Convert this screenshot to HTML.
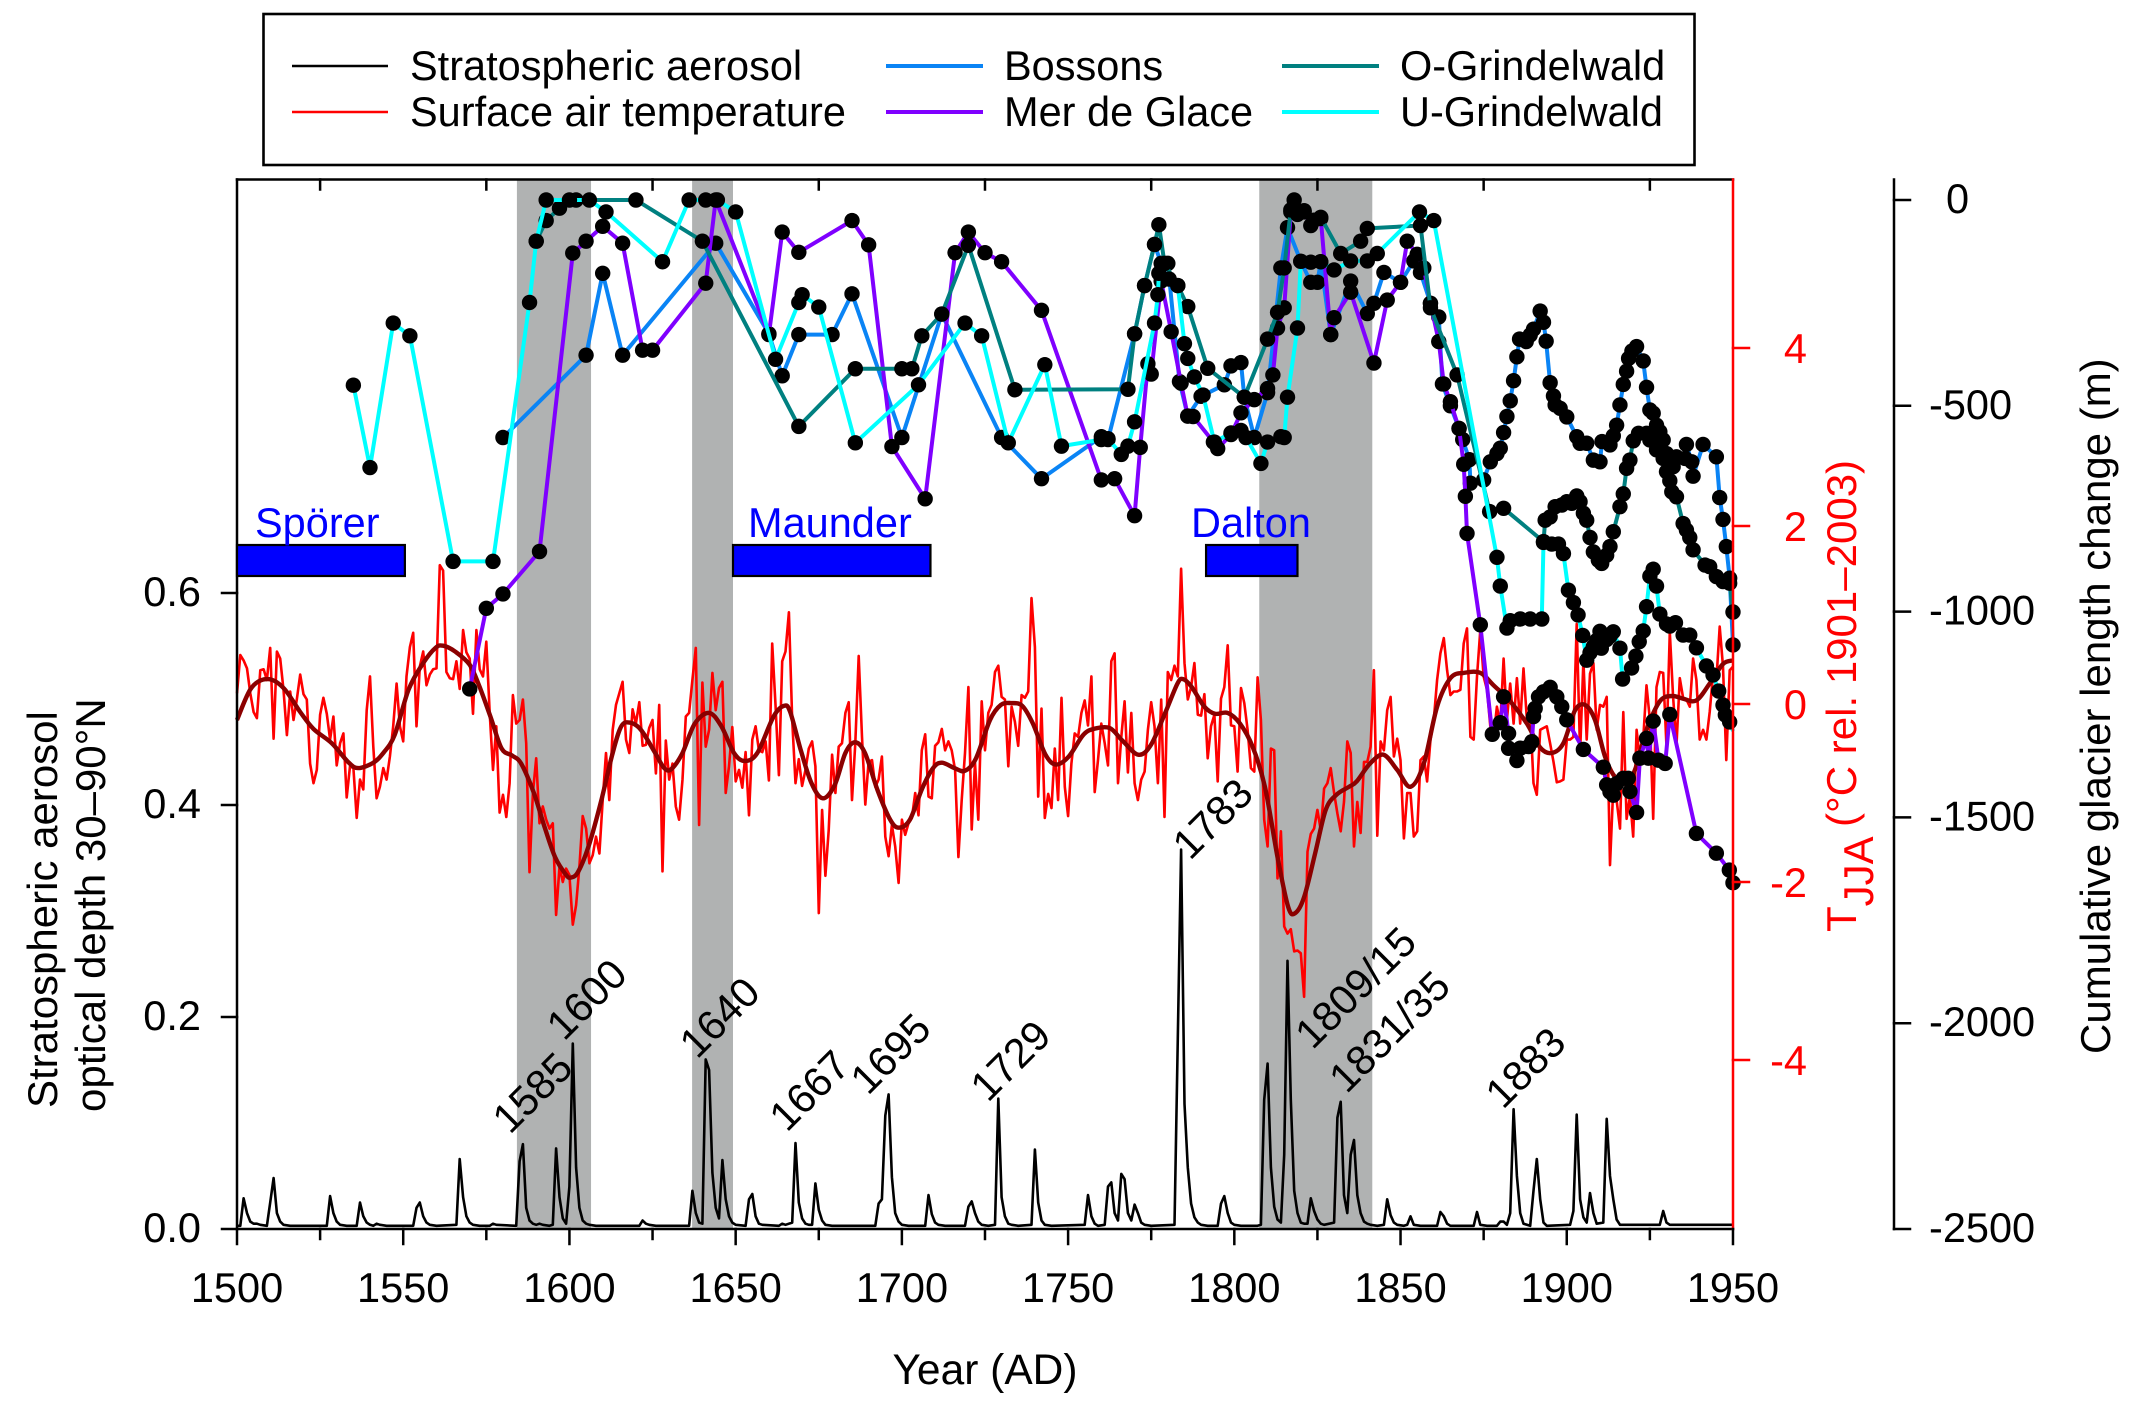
<!DOCTYPE html>
<html lang="en">
<head>
<meta charset="utf-8">
<title>Stratospheric aerosol, temperature and glacier length 1500-1950</title>
<style>
html,body{margin:0;padding:0;background:#fff;}
svg{display:block;}
text{font-family:"Liberation Sans",Arial,sans-serif;font-size:41.5px;fill:#000;}
.title{font-size:42px;}
</style>
</head>
<body>
<svg id="chart" xmlns="http://www.w3.org/2000/svg" width="2138" height="1412" viewBox="0 0 2138 1412">
  <rect x="0" y="0" width="2138" height="1412" fill="#fff"/>
  <g id="bands"></g>
  <g id="series-lower"></g>
  <g id="series-glacier"></g>
  <g id="axes"></g>

  <g id="minima"></g>

  <g>
    <text class="title" transform="translate(57 1108) rotate(-90)">Stratospheric aerosol</text>
    <text class="title" transform="translate(105 1112) rotate(-90)">optical depth 30–90°N</text>
  </g>
  <text x="985" y="1384" text-anchor="middle" style="font-size:42.5px">Year (AD)</text>
  <text class="title" transform="translate(1856 932) rotate(-90)" style="fill:#f00"><tspan>T</tspan><tspan dy="17">JJA</tspan><tspan dy="-17"> (°C rel. 1901–2003)</tspan></text>
  <text class="title" transform="translate(2110 1054) rotate(-90)">Cumulative glacier length change (m)</text>

  <g>
    <rect x="263.5" y="14" width="1431" height="151" fill="#fff" stroke="#000" stroke-width="2.6"/>
    <line x1="292" x2="388" y1="66" y2="66" stroke="#000" stroke-width="2.6"/>
    <text x="410" y="80">Stratospheric aerosol</text>
    <line x1="292" x2="388" y1="112" y2="112" stroke="#f00" stroke-width="2.6"/>
    <text x="410" y="126">Surface air temperature</text>
    <line x1="886" x2="983" y1="66" y2="66" stroke="#0a84f5" stroke-width="4"/>
    <text x="1004" y="80">Bossons</text>
    <line x1="886" x2="983" y1="112" y2="112" stroke="#7f00ff" stroke-width="4"/>
    <text x="1004" y="126">Mer de Glace</text>
    <line x1="1282" x2="1379" y1="66" y2="66" stroke="#008080" stroke-width="4"/>
    <text x="1400" y="80">O-Grindelwald</text>
    <line x1="1282" x2="1379" y1="112" y2="112" stroke="#00ffff" stroke-width="4"/>
    <text x="1400" y="126">U-Grindelwald</text>
  </g>
</svg>
<script>
const tempFirstYear = 1500;
const temperatureValues = [
.12,.55,.49,.40,.12,-.09,-.16,.38,.39,.27,
.63,-.39,.59,.51,.16,-.35,.14,-.18,.05,.33,
.11,.05,-.67,-.89,-.74,-.12,.07,-.11,-.40,-.14,
-.69,-.44,-.33,-1.05,-.70,-.72,-1.28,-.85,-.96,-.07,
.31,-.48,-1.06,-.93,-.72,-.85,-.59,-.25,.23,-.25,
-.42,.31,.64,.80,-.25,.42,.59,.21,.33,.39,
.40,1.56,1.5,.36,.29,.28,.48,.17,.83,.58,
.51,-.11,.83,.39,.31,.70,-.10,-.74,-.25,-1.22,
-1.02,-1.27,-.89,.10,-.22,-.18,.05,-.44,-1.89,-1.0,
-.61,-1.34,-1.15,-1.30,-1.40,-1.34,-2.37,-1.83,-2.0,-1.85,
-1.92,-2.48,-2.26,-1.83,-1.26,-1.40,-1.79,-1.70,-1.49,-1.68,
-1.08,-.55,-1.08,-.29,-.01,.12,.25,-.40,-.55,-.06,
-.22,.02,-.47,-.46,-.27,-.18,-.78,-.01,-1.88,-.41,
-.85,-.67,-1.15,-1.30,-.85,-.14,-.10,.27,.63,-1.36,
.24,-.48,-.29,.35,-.07,.18,.25,-1.0,-.70,-.26,
-.87,-.74,-.94,-.54,-1.25,-.40,-.25,-.52,-.54,-.42,
-.86,.68,-.03,-.80,.48,.59,1.03,-.18,-.89,-.62,
-.92,-.74,-.50,-.42,-.70,-2.35,-1.19,-1.93,-1.42,-.57,
-1.0,-.48,-.44,-.10,.02,-1.08,-.44,.54,-.37,-1.13,
-.65,-.63,-.93,-.85,-.59,-1.49,-1.71,-1.36,-1.6,-2.01,
-1.30,-1.47,-1.34,-1.28,-1.0,-1.25,-.52,-.34,-1.04,-1.06,
-.47,-.43,-.28,-.52,-.42,-.52,-.74,-1.72,-1.08,-.55,
.19,-1.41,-.66,-1.30,.03,-.52,-.10,-.01,.36,.43,
.08,.05,-.70,-.03,-.20,-.47,.10,.07,.14,1.19,
.64,-1.04,-.05,-1.28,-1.01,-1.17,-.50,-1.08,.07,-.93,
-1.26,-.67,-.33,-.37,-.10,.04,-.24,.31,-.99,-.63,
-.22,-.44,-.69,.48,.57,-.89,-.37,.03,-.77,-.10,
-.89,-1.08,-.85,-.76,-.29,.02,-.25,-.89,.05,-1.27,
.36,.27,.43,.31,1.52,.46,.05,.19,.46,-.12,
-.13,.11,-.61,-.25,-.12,-.87,.06,.19,.66,-.24,
-.25,-.76,.18,.01,-.29,-.72,-.76,.30,-.18,-1.30,
-1.60,-.50,-.52,-1.96,-1.43,-2.50,-2.58,-2.53,-2.78,-2.77,
-2.80,-3.29,-1.66,-1.46,-1.40,-1.19,-1.42,-.95,-.89,-.72,
-1.0,-1.23,-1.43,-1.10,-.42,-.55,-1.60,-1.10,-1.45,-.65,
-.65,-.48,.38,-1.48,-.42,-.52,-.07,.08,-.59,-.39,
-.63,-1.51,-1.0,-1.0,-1.49,-1.43,-.63,-.59,-.87,-.40,
-.18,.27,.57,.74,.38,.10,.14,.14,.16,.68,
.85,-.37,-.40,.31,.83,.31,.16,-.25,-.37,-.03,
-.22,.51,-.18,.23,-.22,.29,-.22,.40,-.18,-.10,
-.89,-1.02,-.29,-.27,-.25,-.44,-.65,-.88,-.87,-.85,
-.40,-.40,-.37,.9,-.55,.49,-.40,.34,.46,-.29,
-.01,-.03,.08,-1.81,-.93,-1.08,-1.40,-.09,-1.29,-1.04,
-1.49,-.29,-.63,-.40,.21,-.18,-1.29,.19,.36,.35,
-.48,.81,.08,-.46,.29,.07,.05,-.03,.51,.27,
-.40,-.29,-.40,-.09,.33,.27,.87,.42,-.63,.38,
.42];

const smoothYears = [1500,1504.3,1509.2,1514,1519,1523,1528.5,1533.4,1536.4,1541,1544,1547.4,1551.6,1556,1559.7,1562,1565.6,1570,1573,1576.4,1579.6,1582.8,1585.5,1589.3,1592.5,1595.7,1599,1600.5,1602.7,1606,1609.6,1613,1615.6,1618.3,1621.5,1625.8,1628.5,1630.7,1634,1637.7,1642,1645.7,1649.5,1652.7,1656.5,1661.4,1664.6,1666.4,1669.6,1672.8,1676.2,1679.8,1683,1685.9,1688.9,1692.7,1696.5,1699.1,1702.4,1706.1,1709.4,1712,1715.8,1719,1722.3,1726.5,1729.8,1733,1736.2,1739.4,1743.2,1746.4,1750.2,1754.5,1757.7,1762.5,1766.3,1771.1,1774.9,1779.2,1782.9,1784.6,1787.2,1791,1794.2,1798,1801.7,1805.5,1809.2,1813,1816.2,1818.3,1821,1824.3,1827.5,1830.7,1834.5,1836.8,1840.8,1844.9,1849,1853,1857,1861,1865,1869,1874,1878,1883,1888,1892,1895.5,1899,1902.5,1905.5,1908.5,1911.5,1914.5,1918,1920.7,1924,1928,1931.6,1935,1939,1943,1947,1950];
const smoothValues = [-.18,.18,.28,.18,-.09,-.28,-.44,-.65,-.72,-.66,-.55,-.35,.16,.46,.63,.655,.59,.44,.19,-.16,-.50,-.58,-.67,-1.0,-1.38,-1.72,-1.92,-1.95,-1.88,-1.57,-1.08,-.55,-.25,-.21,-.29,-.55,-.72,-.73,-.55,-.22,-.10,-.25,-.55,-.64,-.55,-.14,-.02,-.09,-.52,-.89,-1.06,-.91,-.55,-.43,-.55,-.97,-1.30,-1.39,-1.30,-.95,-.72,-.66,-.72,-.75,-.61,-.18,-.01,.01,-.02,-.22,-.57,-.68,-.59,-.35,-.28,-.27,-.41,-.57,-.46,-.10,.23,.28,.19,-.03,-.11,-.10,-.22,-.48,-.93,-1.72,-2.28,-2.35,-2.17,-1.68,-1.19,-1.02,-.93,-.87,-.67,-.57,-.74,-.93,-.67,-.03,.29,.35,.35,.21,.03,-.22,-.49,-.55,-.44,-.07,-.01,-.18,-.59,-.82,-.89,-.72,-.29,.03,.09,.06,.04,.23,.45,.49];

const aodYears = [
1500,1501,1502,1503,1504,1505,1506,1507,1509,1510,
1511,1512,1513,1514,1516,1527,1528,1529,1530,1531,
1533,1536,1537,1538,1539,1540,1541,1542,1543,1545,
1553,1554,1555,1556,1557,1558,1560,1566,1567,1568,
1569,1570,1571,1573,1576,1577,1578,1584,1585,1586,
1587,1588,1589,1590,1591,1592,1594,1595,1596,1597,
1598,1599,1600,1601,1602,1603,1604,1605,1606,1608,
1621,1622,1623,1624,1626,1636,1637,1638,1639,1640,
1641,1642,1643,1644,1645,1646,1647,1648,1649,1650,
1653,1654,1655,1656,1657,1658,1663,1664,1665,1667,
1668,1669,1670,1671,1672,1673,1674,1675,1676,1677,
1679,1692,1693,1694,1695,1696,1697,1698,1699,1700,
1702,1707,1708,1709,1710,1711,1713,1719,1720,1721,
1722,1723,1724,1726,1728,1729,1730,1731,1732,1733,
1735,1739,1740,1741,1742,1743,1745,1755,1756,1757,
1758,1759,1761,1762,1763,1764,1765,1766,1767,1768,
1769,1770,1771,1772,1773,1775,1782,1783,1784,1785,
1786,1787,1788,1789,1790,1792,1795,1796,1797,1798,
1799,1800,1802,1807,1808,1809,1810,1811,1812,1813,
1814,1815,1816,1817,1818,1819,1820,1821,1822,1823,
1824,1825,1826,1827,1830,1831,1832,1833,1834,1835,
1836,1837,1838,1839,1840,1841,1843,1845,1846,1847,
1848,1849,1851,1852,1853,1854,1856,1861,1862,1863,
1864,1865,1872,1873,1874,1876,1879,1880,1881,1882,
1883,1884,1885,1886,1887,1889,1890,1891,1892,1893,
1894,1901,1902,1903,1904,1905,1906,1907,1908,1909,
1911,1912,1913,1914,1915,1916,1928,1929,1930,1931,
1950];
const aodValues = [
.003,.003,.029,.015,.007,.005,.005,.004,.003,.025,
.048,.015,.007,.004,.003,.003,.031,.015,.007,.004,
.003,.003,.025,.012,.006,.004,.003,.005,.004,.003,
.003,.02,.025,.012,.006,.004,.003,.004,.066,.03,
.012,.006,.004,.003,.003,.005,.004,.003,.064,.08,
.02,.008,.005,.004,.005,.004,.003,.004,.076,.03,
.01,.005,.04,.175,.058,.02,.008,.005,.004,.003,
.003,.008,.005,.004,.003,.003,.036,.015,.006,.005,
.16,.15,.053,.02,.01,.065,.028,.012,.006,.004,
.003,.028,.033,.012,.005,.004,.003,.005,.004,.006,
.081,.025,.01,.005,.004,.004,.043,.018,.008,.004,
.003,.003,.024,.028,.107,.127,.049,.015,.007,.004,
.003,.003,.032,.014,.006,.004,.003,.003,.021,.026,
.015,.007,.004,.003,.004,.123,.03,.012,.005,.004,
.003,.004,.075,.025,.008,.004,.003,.004,.032,.012,
.005,.003,.004,.04,.044,.015,.008,.052,.047,.015,
.008,.023,.015,.006,.004,.003,.004,.18,.358,.118,
.058,.024,.011,.006,.004,.003,.003,.024,.031,.015,
.006,.004,.003,.003,.004,.122,.156,.058,.021,.009,
.006,.07,.253,.122,.036,.015,.006,.005,.005,.029,
.017,.009,.005,.004,.006,.105,.12,.032,.015,.07,
.084,.032,.015,.007,.005,.004,.003,.004,.028,.013,
.006,.004,.003,.004,.012,.004,.003,.003,.016,.012,
.005,.003,.003,.016,.004,.003,.003,.007,.007,.004,
.015,.113,.05,.015,.005,.003,.036,.066,.028,.006,
.003,.004,.017,.108,.028,.011,.006,.034,.015,.005,
.006,.104,.05,.028,.009,.004,.004,.017,.006,.004,
.004];

const bossonsYears = [1580,1605,1610,1616,1644,1660,1664,1669,1679,1685,1700,1712,1730,1742,1760,1762,1770,1773,1776,1778,1780,1783.5,1786,1790,1797,1799,1802,1803,1806,1810,1814,1816,1820,1823,1825,1826,1829,1835,1840,1842,1845,1850,1854,1856,1859,1861.5,1862.6,1865,1867.6,1868.7,1870.7,1871,1875,1877,1879,1880,1881,1882,1883,1884,1885,1885.8,1887.8,1889,1890,1892,1893,1893.8,1895,1896,1896.5,1898,1900,1903,1904,1906,1908,1910,1910.6,1913,1914,1915,1916,1917,1918,1918.6,1919.6,1921,1923,1924,1925,1926,1927,1928,1929,1930,1932,1933,1935.6,1936,1937.6,1938,1941,1945,1946,1947,1948,1949,1950];
const bossonsLengths = [-577,-377,-178,-377,-105,-325,-427,-327,-327,-228,-577,-277,-577,-677,-575,-582,-325,-208,-108,-154,-154,-441,-525,-477,-449,-403,-395,-479,-577,-468,-165,-67,-149,-200,-200,-150,-327,-197,-276,-251,-176,-200,-148,-176,-251,-284,-447,-500,-555,-582,-631,-688,-680,-636,-616,-603,-565,-526,-488,-439,-381,-338,-344,-328,-314,-270,-297,-343,-444,-476,-498,-506,-527,-575,-591,-591,-632,-636,-587,-595,-573,-547,-498,-448,-416,-385,-367,-356,-391,-455,-510,-518,-547,-563,-583,-616,-648,-624,-628,-594,-636,-671,-594,-624,-723,-776,-842,-919,-1081];

const merDeGlaceYears = [1570,1575,1580,1591,1601,1605,1610,1616,1622,1625,1641,1644,1660,1664,1669,1685,1690,1697,1707,1716,1720,1725,1730,1742,1760,1764,1770,1771.7,1774,1775,1778,1781,1784,1786,1787.6,1793.7,1795,1799,1802,1806,1810,1811.6,1813,1815,1817,1818,1821,1823,1826,1829,1830,1835,1842,1846,1850,1852,1855,1857,1859,1861.5,1863,1865,1867.6,1869,1869.5,1870,1874,1877.6,1880,1881,1882.5,1882.5,1885,1886,1888.5,1889.5,1890,1890.5,1891.5,1893,1895,1897,1898.5,1900,1905,1911,1912,1913,1914,1915,1917,1918.5,1919,1921,1922,1924,1924.6,1926,1927.6,1929.6,1931,1939,1945,1948.9,1950];
const merDeGlaceLengths = [-1188,-992,-957,-854,-129,-100,-64,-105,-365,-365,-202,0,-327,-78,-127,-50,-109,-599,-726,-128,-78,-128,-150,-268,-680,-677,-767,-601,-398,-423,-197,-320,-445,-525,-526,-588,-604,-570,-517,-485,-458,-425,-311,-262,-29,0,-29,-62,-45,-327,-286,-224,-396,-243,-200,-100,-132,-165,-251,-344,-447,-490,-555,-642,-720,-810,-1032,-1298,-1270,-1207,-1296,-1332,-1362,-1332,-1328,-1316,-1255,-1235,-1207,-1195,-1184,-1207,-1231,-1263,-1335,-1378,-1421,-1438,-1446,-1418,-1405,-1405,-1437,-1488,-1356,-1308,-1356,-1266,-1361,-1369,-1250,-1539,-1587,-1628,-1659];

const oGrindelwaldYears = [1590,1593,1597,1602,1620,1640,1669,1686,1700,1703,1706,1712,1720,1734,1768,1770,1773,1776,1777.3,1779,1783,1786,1792,1803,1810,1813,1815,1817,1819,1821,1824,1826,1832,1838,1840,1856,1859,1867,1876.8,1881,1893,1893.5,1895,1896.5,1898.5,1900,1901.5,1903,1904,1905,1906,1907,1908,1909.5,1910.5,1912,1913,1914,1916,1917,1918,1919,1920,1921.6,1924,1925,1927,1929,1930,1931,1931.6,1933,1935,1936,1937,1938,1941.6,1943,1945,1947,1949,1950];
const oGrindelwaldLengths = [-100,-50,-20,0,0,-100,-550,-410,-410,-410,-330,-277,-110,-461,-460,-325,-208,-108,-60,-154,-208,-259,-409,-479,-338,-273,-165,-24,-35,-26,-49,-42,-130,-100,-69,-62,-262,-425,-757,-749,-830,-778,-770,-745,-741,-733,-737,-719,-733,-761,-778,-820,-855,-875,-883,-863,-842,-806,-745,-714,-652,-632,-585,-567,-567,-583,-607,-628,-660,-682,-709,-721,-786,-802,-820,-850,-887,-891,-915,-927,-931,-1001];

const uGrindelwaldYears = [1535,1540,1547,1552,1565,1577,1588,1590,1593,1600,1606,1611,1628,1636,1641,1644.5,1650,1662,1669,1670,1675,1686,1705,1719,1724,1732,1743,1748,1760,1762,1766,1768,1770,1776,1777,1777.3,1780.4,1783,1785,1786,1788,1790.6,1794,1799,1802,1803.5,1808,1810,1814,1815,1816,1819,1820,1823,1826,1830,1835,1840,1843,1855.7,1860,1879,1880,1882,1883,1886,1889,1892.5,1893,1895.5,1897.5,1899,1900.5,1902,1903.4,1904.8,1906,1907,1908,1909,1910,1910.4,1912,1913,1914,1916,1916.8,1919.5,1920.8,1921.8,1923,1924,1925,1926,1927,1928,1930,1931,1932.7,1935,1937,1939,1942,1944,1945.7,1947,1947.7,1949,1950];
const uGrindelwaldLengths = [-450,-650,-299,-330,-878,-878,-249,-100,0,0,0,-29,-150,0,0,0,-29,-387,-249,-230,-260,-590,-449,-299,-330,-590,-400,-598,-582,-580,-618,-598,-539,-299,-230,-178,-192,-208,-349,-385,-430,-474,-588,-566,-560,-577,-640,-588,-575,-577,-479,-311,-149,-151,-150,-170,-148,-148,-130,-29,-50,-868,-938,-1040,-1022,-1018,-1018,-1018,-832,-836,-836,-859,-948,-978,-1008,-1058,-1118,-1100,-1085,-1070,-1048,-1089,-1068,-1060,-1049,-1089,-1164,-1137,-1108,-1073,-1047,-988,-914,-897,-938,-1006,-1030,-1035,-1027,-1057,-1057,-1088,-1132,-1154,-1193,-1227,-1251,-1268,-1290];

const volcanicBandStarts = [1584.2,1636.9,1807.5];
const volcanicBandEnds = [1606.5,1649.2,1841.5];
const minimumNames = ['Spörer','Maunder','Dalton'];
const minimumStarts = [1500,1649.2,1791.5];
const minimumEnds = [1550.5,1708.6,1819];
const eruptionLabels = ['1585','1600','1640','1667','1695','1729','1783','1809/15','1831/35','1883'];

const xMajorTicks = [1500,1550,1600,1650,1700,1750,1800,1850,1900,1950];
const xMinorTicks = [1525,1575,1625,1675,1725,1775,1825,1875,1925];
const aodTicks = [0,0.2,0.4,0.6];
const aodTickLabels = ['0.0','0.2','0.4','0.6'];
const tempTicks = [4,2,0,-2,-4];
const glacierTicks = [0,-500,-1000,-1500,-2000,-2500];

const X0 = 237, X_PER_YEAR = 3.3244, PLOT_TOP = 179.5, PLOT_BOTTOM = 1229, PLOT_RIGHT = 1733;
const xScale = y => X0 + (y - 1500) * X_PER_YEAR;
const aodScale = v => 1229 - v * 1060;
const tempScale = v => 704 - v * 89;
const lengthScale = v => 200 - v * 0.4116;

const NS = 'http://www.w3.org/2000/svg';
const make = (tag, parent) => { const e = document.createElementNS(NS, tag); parent.appendChild(e); return e; };
const bandsG = document.getElementById('bands');
const lowerG = document.getElementById('series-lower');
const glacierG = document.getElementById('series-glacier');
const axesG = document.getElementById('axes');
const minimaG = document.getElementById('minima');

volcanicBandStarts.forEach((s, i) => {
  const r = make('rect', bandsG);
  
  
  r.setAttribute('x', xScale(s));
  r.setAttribute('y', PLOT_TOP);
  r.setAttribute('width', xScale(volcanicBandEnds[i]) - xScale(s));
  r.setAttribute('height', PLOT_BOTTOM - PLOT_TOP);
  r.setAttribute('fill', '#b0b2b2');
});

function polyPath(xs, ys) {
  return xs.map((x, i) => (i ? 'L' : 'M') + x.toFixed(1) + ' ' + ys[i].toFixed(1)).join('');
}
function smoothPath(xs, ys) {
  let d = 'M' + xs[0].toFixed(1) + ' ' + ys[0].toFixed(1);
  for (let i = 0; i < xs.length - 1; i++) {
    const a = Math.max(i - 1, 0), b = Math.min(i + 2, xs.length - 1);
    const c1x = xs[i] + (xs[i + 1] - xs[a]) / 6, c1y = ys[i] + (ys[i + 1] - ys[a]) / 6;
    const c2x = xs[i + 1] - (xs[b] - xs[i]) / 6, c2y = ys[i + 1] - (ys[b] - ys[i]) / 6;
    d += 'C' + c1x.toFixed(1) + ' ' + c1y.toFixed(1) + ' ' + c2x.toFixed(1) + ' ' + c2y.toFixed(1) + ' ' + xs[i + 1].toFixed(1) + ' ' + ys[i + 1].toFixed(1);
  }
  return d;
}

const aodLine = make('path', lowerG);


aodLine.setAttribute('d', polyPath(aodYears.map(xScale), aodValues.map(aodScale)));
aodLine.setAttribute('fill', 'none');
aodLine.setAttribute('stroke', '#000');
aodLine.setAttribute('stroke-width', '2.6');
aodLine.setAttribute('stroke-linejoin', 'round');

const tempLine = make('path', lowerG);


tempLine.setAttribute('d', polyPath(temperatureValues.map((v, i) => xScale(tempFirstYear + i)), temperatureValues.map(tempScale)));
tempLine.setAttribute('fill', 'none');
tempLine.setAttribute('stroke', '#f00');
tempLine.setAttribute('stroke-width', '2.6');
tempLine.setAttribute('stroke-linejoin', 'round');

const smoothLine = make('path', lowerG);


smoothLine.setAttribute('d', smoothPath(smoothYears.map(xScale), smoothValues.map(tempScale)));
smoothLine.setAttribute('fill', 'none');
smoothLine.setAttribute('stroke', '#8b0000');
smoothLine.setAttribute('stroke-width', '4.4');

function drawGlacier(name, years, lengths, color, markLast) {
  const g = make('g', glacierG);
  
  
  const line = make('path', g);
  
  
  line.setAttribute('d', polyPath(years.map(xScale), lengths.map(lengthScale)));
  line.setAttribute('fill', 'none');
  line.setAttribute('stroke', color);
  line.setAttribute('stroke-width', '4');
  line.setAttribute('stroke-linejoin', 'round');
  years.forEach((y, i) => {
    if (!markLast && i === years.length - 1) return;
    const c = make('circle', g);
    
    
    c.setAttribute('cx', xScale(y));
    c.setAttribute('cy', lengthScale(lengths[i]));
    c.setAttribute('r', '7.7');
    c.setAttribute('fill', '#000');
  });
}
drawGlacier('bossons', bossonsYears, bossonsLengths, '#0a84f5', true);
drawGlacier('mer-de-glace', merDeGlaceYears, merDeGlaceLengths, '#7f00ff', true);
drawGlacier('o-grindelwald', oGrindelwaldYears, oGrindelwaldLengths, '#008080', true);
drawGlacier('u-grindelwald', uGrindelwaldYears, uGrindelwaldLengths, '#00ffff', false);

function rule(parent, name, x1, y1, x2, y2, color, width) {
  const l = make('line', parent);
  
  
  l.setAttribute('x1', x1);
  l.setAttribute('y1', y1);
  l.setAttribute('x2', x2);
  l.setAttribute('y2', y2);
  l.setAttribute('stroke', color);
  l.setAttribute('stroke-width', width);
  l.setAttribute('stroke-linecap', 'square');
}
function label(parent, name, x, y, anchor, color, content) {
  const t = make('text', parent);
  
  
  t.setAttribute('x', x);
  t.setAttribute('y', y);
  t.setAttribute('text-anchor', anchor);
  t.style.fill = color;
  t.textContent = content;
  return t;
}

rule(axesG, 'plot-top-spine', X0, PLOT_TOP, PLOT_RIGHT, PLOT_TOP, '#000', 2.5);
rule(axesG, 'plot-bottom-spine', X0, PLOT_BOTTOM, PLOT_RIGHT, PLOT_BOTTOM, '#000', 2.5);
rule(axesG, 'aerosol-axis-spine', X0, PLOT_TOP, X0, PLOT_BOTTOM, '#000', 2.5);
rule(axesG, 'temperature-axis-spine', PLOT_RIGHT, PLOT_TOP, PLOT_RIGHT, PLOT_BOTTOM, '#f00', 2.5);
rule(axesG, 'glacier-axis-spine', 1894, PLOT_TOP, 1894, PLOT_BOTTOM, '#000', 2.5);

xMajorTicks.forEach(v => {
  rule(axesG, 'x-tick-' + v, xScale(v), PLOT_BOTTOM, xScale(v), PLOT_BOTTOM + 15, '#000', 2.5);
  label(axesG, 'x-tick-label-' + v, xScale(v), 1302, 'middle', '#000', String(v));
});
xMinorTicks.forEach(v => {
  rule(axesG, 'x-minor-tick-' + v, xScale(v), PLOT_BOTTOM, xScale(v), PLOT_BOTTOM + 10, '#000', 2.5);
  rule(axesG, 'top-tick-' + v, xScale(v), PLOT_TOP, xScale(v), PLOT_TOP + 10, '#000', 2.5);
});
aodTicks.forEach((v, i) => {
  rule(axesG, 'aerosol-tick-' + i, X0 - 15, aodScale(v), X0, aodScale(v), '#000', 2.5);
  label(axesG, 'aerosol-tick-label-' + i, 201, aodScale(v) + 13, 'end', '#000', aodTickLabels[i]);
});
tempTicks.forEach(v => {
  rule(axesG, 'temperature-tick-' + v, PLOT_RIGHT, tempScale(v), PLOT_RIGHT + 16, tempScale(v), '#f00', 2.5);
  label(axesG, 'temperature-tick-label-' + v, 1807, tempScale(v) + 15, 'end', '#f00', String(v));
});
glacierTicks.forEach(v => {
  rule(axesG, 'glacier-tick-' + v, 1894, lengthScale(v), 1910, lengthScale(v), '#000', 2.5);
  label(axesG, 'glacier-tick-label-' + v, v === 0 ? 1946 : 1929, lengthScale(v) + 13, 'start', '#000', String(v));
});

minimumNames.forEach((n, i) => {
  const r = make('rect', minimaG);
  
  
  r.setAttribute('x', xScale(minimumStarts[i]));
  r.setAttribute('y', 545);
  r.setAttribute('width', xScale(minimumEnds[i]) - xScale(minimumStarts[i]));
  r.setAttribute('height', 31);
  r.setAttribute('fill', '#00f');
  r.setAttribute('stroke', '#000');
  r.setAttribute('stroke-width', '2.2');
  label(minimaG, 'minimum-label-' + n.toLowerCase(), [255, 748, 1191][i], 537, 'start', '#00f', n);
});

const eruptionCenterYears = [1588.7,1605,1645,1672,1696.4,1732.5,1793.3,1836.3,1846.5,1887.4];
const eruptionCenterAod = [.1292,.2172,.2002,.1312,.1660,.1594,.3877,.2283,.1868,.1528];
eruptionLabels.forEach((txt, i) => {
  const cx = xScale(eruptionCenterYears[i]);
  const cy = aodScale(eruptionCenterAod[i]);
  const t = label(axesG, 'eruption-label-' + txt.replace('/', '-'), cx, cy + 15, 'middle', '#000', txt);
  t.setAttribute('transform', 'rotate(-45 ' + cx + ' ' + cy + ')');
});
</script>
</body>
</html>
